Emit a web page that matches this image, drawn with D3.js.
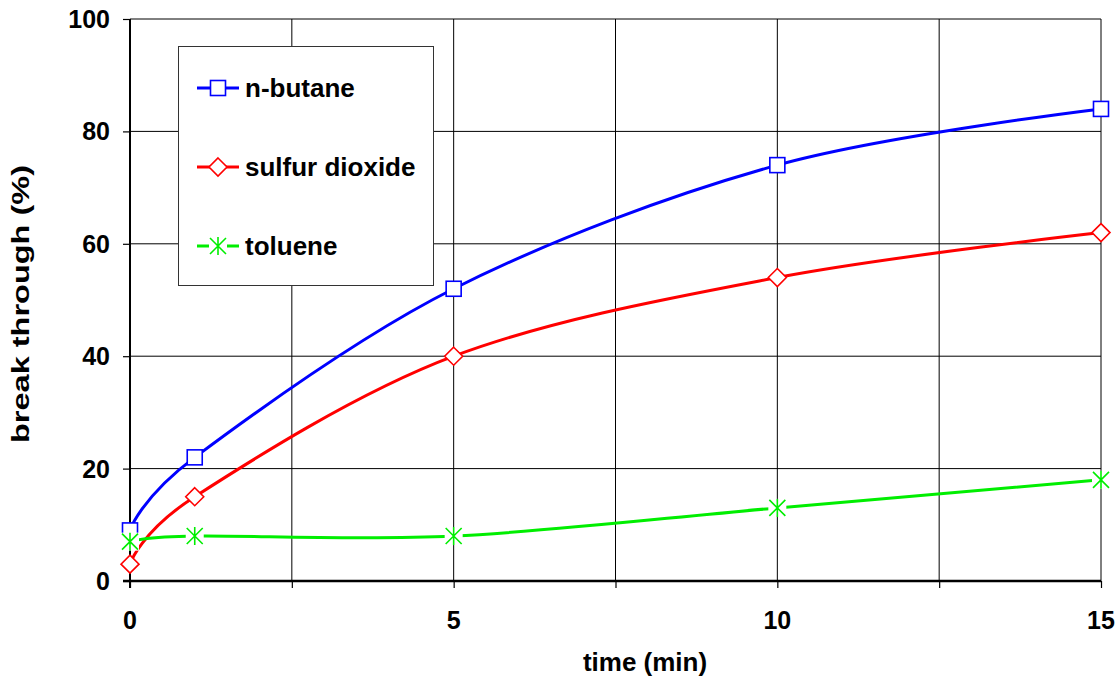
<!DOCTYPE html>
<html>
<head>
<meta charset="utf-8">
<script src="https://d3js.org/d3.v7.min.js"></script>
<style>
  body { margin: 0; background: #fff; }
  text { font-family: "Liberation Sans", Arial, sans-serif; font-weight: bold; fill: #000; }
</style>
</head>
<body>
<script>
// data
const times = [0, 1, 5, 10, 15];
const butane = [9, 22, 52, 74, 84];
const sulfur = [3, 15, 40, 54, 62];
const toluene = [7, 8, 8, 13, 18];
const seriesNames = ["n-butane", "sulfur dioxide", "toluene"];
const xTicks = [0, 2.5, 5, 7.5, 10, 12.5, 15];
const xLabels = [0, 5, 10, 15];
const yTicks = [0, 20, 40, 60, 80, 100];

const width = 1119, height = 677;
const plotL = 130, plotR = 1101, plotT = 19, plotB = 581;

const svg = d3.select("body").append("svg")
  .attr("width", width).attr("height", height);

const x = d3.scaleLinear().domain([0, 15]).range([plotL, plotR]);
const y = d3.scaleLinear().domain([0, 100]).range([plotB, plotT]);

// grid
svg.append("g").selectAll("line").data(xTicks.slice(1)).join("line")
  .attr("x1", d => x(d)).attr("x2", d => x(d))
  .attr("y1", plotT).attr("y2", plotB)
  .attr("stroke", "#000").attr("stroke-width", 1);
svg.append("g").selectAll("line").data(yTicks.slice(1)).join("line")
  .attr("x1", plotL).attr("x2", plotR)
  .attr("y1", d => y(d)).attr("y2", d => y(d))
  .attr("stroke", "#000").attr("stroke-width", 1);

// axes
const xAxis = d3.axisBottom(x).tickValues(xTicks).tickSize(7).tickFormat("");
svg.append("g").attr("transform", "translate(0," + plotB + ")").call(xAxis)
  .call(g => g.select(".domain").attr("stroke-width", 2.5).attr("d", "M" + (plotL - 7) + ",0H" + plotR))
  .call(g => g.selectAll(".tick line").attr("stroke-width", 1.2));
const yAxis = d3.axisLeft(y).tickValues(yTicks).tickSize(7).tickFormat("");
svg.append("g").attr("transform", "translate(" + plotL + ",0)").call(yAxis)
  .call(g => g.select(".domain").attr("stroke-width", 2).attr("d", "M0," + plotT + "V" + (plotB + 7)))
  .call(g => g.selectAll(".tick line").attr("stroke-width", 1.2));

svg.append("g").selectAll("text").data(xLabels).join("text")
  .attr("x", d => x(d)).attr("y", 629)
  .attr("text-anchor", "middle").style("font-size", "25px")
  .text(d => d);
svg.append("g").selectAll("text").data(yTicks).join("text")
  .attr("x", 110).attr("y", d => y(d) + 9)
  .attr("text-anchor", "end").style("font-size", "25px")
  .text(d => d);

svg.append("text").attr("x", 645).attr("y", 671)
  .attr("text-anchor", "middle").style("font-size", "26px")
  .text("time (min)");
svg.append("text").attr("transform", "translate(29,304) rotate(-90)")
  .attr("text-anchor", "middle").style("font-size", "24px")
  .attr("textLength", 278).attr("lengthAdjust", "spacingAndGlyphs")
  .text("break through (%)");

// series
const colors = ["#0000ff", "#ff0000", "#00ee00"];
const shapes = ["square", "diamond", "star"];
const allSeries = [butane, sulfur, toluene];

const line = d3.line()
  .x(d => x(d[0])).y(d => y(d[1]))
  .curve(d3.curveCardinal.tension(0));

function marker(g, shape, color) {
  if (shape === "square") {
    g.append("rect").attr("x", -7.5).attr("y", -7.5).attr("width", 15).attr("height", 15)
      .attr("fill", "#fff").attr("stroke", color).attr("stroke-width", 1.6);
  } else if (shape === "diamond") {
    g.append("path").attr("d", "M0,-9L9,0L0,9L-9,0Z")
      .attr("fill", "#fff").attr("stroke", color).attr("stroke-width", 1.6);
  } else {
    g.append("rect").attr("x", -9).attr("y", -9).attr("width", 18).attr("height", 18)
      .attr("fill", "#fff");
    g.append("path").attr("d", "M-8,-8L8,8M8,-8L-8,8M0,-9V9")
      .attr("stroke", color).attr("stroke-width", 1.6).attr("fill", "none");
  }
}

allSeries.forEach((vals, i) => {
  const pts = times.map((t, j) => [t, vals[j]]);
  svg.append("path").datum(pts).attr("d", line)
    .attr("fill", "none").attr("stroke", colors[i]).attr("stroke-width", 3);
});
allSeries.forEach((vals, i) => {
  times.forEach((t, j) => {
    const g = svg.append("g").attr("transform", "translate(" + x(t) + "," + y(vals[j]) + ")");
    marker(g, shapes[i], colors[i]);
  });
});

// legend
const lg = svg.append("g");
lg.append("rect").attr("x", 178.5).attr("y", 46.5).attr("width", 255).attr("height", 239)
  .attr("fill", "#fff").attr("stroke", "#333").attr("stroke-width", 1);
const legendY = [88, 167, 246];
seriesNames.forEach((name, i) => {
  lg.append("line").attr("x1", 197).attr("x2", 239)
    .attr("y1", legendY[i]).attr("y2", legendY[i])
    .attr("stroke", colors[i]).attr("stroke-width", 3);
  const g = lg.append("g").attr("transform", "translate(218," + legendY[i] + ")");
  marker(g, shapes[i], colors[i]);
  lg.append("text").attr("x", 245).attr("y", legendY[i] + 9)
    .style("font-size", "26px").text(name);
});
</script>
</body>
</html>
